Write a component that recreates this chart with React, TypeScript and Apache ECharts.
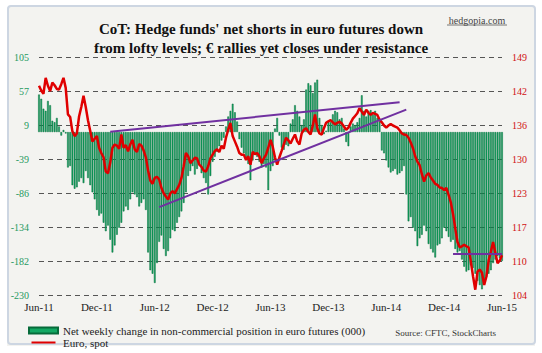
import React, { useEffect, useRef } from 'react';
import * as echarts from 'echarts';

const titleLines = [
  "CoT: Hedge funds' net shorts in euro futures down",
  'from lofty levels; \u20AC rallies yet closes under resistance',
];
const barName = 'Net weekly change in non-commercial position in euro futures (000)';
const lineName = 'Euro, spot';
const firstWeekUTC = Date.UTC(2011, 5, 7);
const tickLabels = ['Jun-11', 'Dec-11', 'Jun-12', 'Dec-12', 'Jun-13', 'Dec-13', 'Jun-14', 'Dec-14', 'Jun-15'];
const leftTicks = [-230, -182.142857, -134.285714, -86.428571, -38.571429, 9.285714, 57.142857, 105];
const rightTicks = [104, 110.4, 116.8, 123.2, 129.6, 136, 142.4, 148.8];
const gridSteps = 7;

const netPositions = [
  53, 47, 33, 30, 44, 38, 16, 14, 20, 8, -5, 3, -2, -50, -48, -75, -80, -78, -70, -65,
  -72, -55, -65, -75, -85, -95, -110, -118, -115, -128, -140, -132, -152, -170, -160, -145, -135, -128, -112, -105,
  -110, -95, -85, -88, -92, -105, -100, -95, -110, -170, -195, -200, -213, -185, -155, -146, -165, -175, -168, -150,
  -138, -140, -128, -120, -112, -100, -85, -62, -55, -48, -60, -52, -45, -58, -65, -72, -88, -62, -42, -35,
  -28, -20, -12, -8, 8, 22, 30, 40, 28, 15, -10, -22, -30, -38, -45, -68, -40, -30, -35, -42,
  -50, -45, -50, -82, -55, -48, 5, 20, -5, -22, -25, -18, -20, 12, 18, 38, 30, 22, 10, 18,
  60, 69, 66, 55, 70, 74, 20, 10, -3, 2, 15, 14, 25, 30, 28, 18, 20, 5, -14, -20,
  8, 12, 10, 14, 20, 52, 30, 22, 30, 31, 25, 30, 20, 15, -26, -30, -40, -50, -57, -55,
  -52, -60, -58, -55, -48, -88, -126, -120, -135, -140, -161, -150, -145, -132, -140, -158, -165, -170, -177, -160,
  -158, -150, -135, -140, -148, -155, -152, -165, -170, -168, -180, -190, -197, -195, -188, -192, -200, -210, -216, -222,
  -212, -205, -200, -195, -185, -180, -175, -178, -182,
];

const euroSpot = [
  143.5, 142.6, 142.0, 145.0, 143.5, 142.5, 144.1, 143.6, 142.9, 142.8, 143.8, 145.0, 143.1, 138.1, 137.6, 134.9, 134.0, 134.5, 137.7, 139.5,
  141.6, 139.5, 137.0, 135.0, 133.0, 133.5, 134.0, 131.8, 130.8, 130.0, 127.3, 127.0, 129.0, 131.8, 132.4, 132.2, 131.6, 134.3, 131.8, 132.3,
  131.1, 132.4, 133.3, 131.5, 131.0, 132.5, 132.2, 131.3, 130.0, 127.5, 125.6, 125.0, 126.1, 126.3, 125.8, 124.2, 123.2, 122.6, 122.0, 123.2,
  123.6, 123.2, 124.0, 124.8, 126.1, 128.3, 130.8, 130.2, 128.9, 129.4, 129.9, 129.8, 128.6, 128.2, 127.5, 127.3, 128.3, 129.8, 130.5, 131.2,
  131.5, 131.0, 132.2, 131.6, 133.7, 135.2, 136.5, 134.0, 133.0, 132.0, 130.8, 130.5, 130.5, 129.5, 130.2, 128.6, 131.0, 130.6, 130.8, 130.2,
  128.9, 129.8, 130.5, 131.8, 133.3, 132.0, 130.0, 128.6, 130.0, 131.2, 132.5, 133.7, 133.2, 132.6, 133.5, 134.3, 133.0, 132.4, 134.5, 135.2,
  135.5, 134.8, 134.3, 136.0, 138.1, 135.5, 134.5, 134.3, 135.5, 136.5, 136.8, 137.0, 136.6, 136.2, 136.5, 136.7, 136.4, 135.8, 135.2, 135.6,
  136.5, 137.3, 137.8, 138.3, 139.3, 138.6, 138.0, 139.0, 138.4, 138.0, 138.4, 138.2, 138.0, 137.1, 136.6, 136.0, 135.6, 136.0, 136.3, 136.0,
  135.8, 135.6, 135.1, 134.5, 134.3, 134.2, 133.7, 132.8, 131.7, 130.2, 129.2, 128.5, 126.8, 125.4, 126.6, 127.0, 126.2, 125.6, 125.0, 124.8,
  124.3, 124.2, 123.8, 124.2, 122.9, 121.5, 119.3, 116.6, 114.0, 113.0, 113.2, 113.5, 113.2, 113.0, 110.3, 107.5, 105.0, 108.4, 108.8, 108.2,
  105.9, 107.5, 110.5, 112.2, 114.0, 112.0, 110.0, 110.5, 111.5,
];

// trend lines: [week index, euro level]
const upperTrend = [[32, 134.8], [162, 140.4]];
const lowerTrend = [[54, 120.6], [165, 139.0]];
const resistance = [[186, 111.8], [208, 111.8]];

const serif = "'Liberation Serif', 'Times New Roman', serif";
const lineIcon = 'path://M0,2.2H28V4.8H0Z M0,0h0.01v0.01h-0.01Z M27.99,6.99h0.01v0.01h-0.01Z';

export default function App() {
  const ref = useRef<HTMLDivElement>(null);
  useEffect(() => {
    if (!ref.current) return;
    const chart = echarts.init(ref.current, null, { renderer: 'svg' });
    const weeks = netPositions.map((_, i) =>
      new Date(firstWeekUTC + i * 7 * 86400000).toISOString().slice(0, 10)
    );
    const trendStyle = { color: '#7030a0', width: 2, type: 'solid' };
    const trend = (pts: number[][]) => [
      { coord: [pts[0][0], pts[0][1]], lineStyle: trendStyle },
      { coord: [pts[1][0], pts[1][1]] },
    ];
    chart.setOption({
      animation: false,
      backgroundColor: '#f3f3f0',
      graphic: [
        {
          type: 'rect', silent: true,
          shape: { x: 0, y: 0, width: 542, height: 353 },
          style: { fill: 'none', stroke: '#ffffff', lineWidth: 14 },
        },
        {
          type: 'rect', silent: true,
          shape: { x: 8, y: 6, width: 527, height: 338, r: 3 },
          style: { fill: 'none', stroke: '#cdd6e2', lineWidth: 2 },
        },
        {
          type: 'text',
          style: { text: 'hedgopia.com', x: 477, y: 20, align: 'center', verticalAlign: 'middle', font: '10px ' + serif, fill: '#444' },
        },
        { type: 'line', shape: { x1: 447, y1: 25, x2: 507, y2: 25 }, style: { stroke: '#555', lineWidth: 0.8 } },
        {
          type: 'text',
          style: { text: 'Source: CFTC, StockCharts', x: 496, y: 333, align: 'right', verticalAlign: 'middle', font: '9px ' + serif, fill: '#333' },
        },
      ],
      title: {
        text: titleLines.join('\n'),
        left: 256, top: 15, textAlign: 'center',
        textStyle: { fontFamily: serif, fontSize: 15, fontWeight: 'bold', color: '#111', lineHeight: 18.5 },
      },
      legend: {
        orient: 'vertical', left: 23, top: 320, itemWidth: 29, itemHeight: 6, itemGap: 1,
        textStyle: { fontFamily: serif, fontSize: 11, color: '#222' },
        data: [
          { name: barName, icon: 'rect' },
          { name: lineName, icon: lineIcon },
        ],
      },
      grid: { left: 39, right: 40, top: 57.7, bottom: 58 },
      xAxis: {
        type: 'category', data: weeks, boundaryGap: false,
        axisLine: { show: false }, axisTick: { show: false }, splitLine: { show: false },
        axisLabel: {
          interval: 25, margin: 6, fontFamily: serif, fontSize: 11, color: '#222',
          formatter: (_v: string, idx: number) => (idx % 26 === 0 ? tickLabels[idx / 26] || '' : ''),
        },
      },
      yAxis: [
        {
          type: 'value', min: -230, max: 105, position: 'left',
          axisLine: { show: false },
          axisTick: { show: false, customValues: leftTicks },
          splitLine: { show: false },
          axisLabel: {
            customValues: leftTicks, margin: 10, fontFamily: serif, fontSize: 10, color: '#1f9a5f',
            formatter: (v: number) => String(Math.round(v)),
          },
        },
        {
          type: 'value', min: 104, max: 148.8, position: 'right',
          axisLine: { show: false },
          axisTick: { show: false, customValues: rightTicks },
          splitLine: { show: false },
          axisLabel: {
            customValues: rightTicks, margin: 10, fontFamily: serif, fontSize: 10, color: '#d01010',
            formatter: (v: number) => String(Math.round(v)),
          },
        },
        {
          // helper axis: one split line per shared tick of the two value axes
          type: 'value', min: 0, max: gridSteps, interval: 1, position: 'left',
          axisLine: { show: false }, axisTick: { show: false }, axisLabel: { show: false },
          splitLine: { show: true, lineStyle: { color: '#555555', width: 1.2, type: [5, 4] } },
        },
      ],
      series: [
        {
          name: barName, type: 'bar', yAxisIndex: 0, data: netPositions, barWidth: 1.7,
          itemStyle: { color: '#12a863', borderColor: '#066b3a', borderWidth: 0.5 },
          z: 2,
        },
        {
          name: lineName, type: 'line', yAxisIndex: 1, data: euroSpot, symbol: 'none',
          lineStyle: { color: '#e00000', width: 2.5 }, itemStyle: { color: '#e00000' }, z: 3,
          markLine: {
            silent: true, symbol: ['none', 'none'], label: { show: false },
            data: [trend(upperTrend), trend(lowerTrend), trend(resistance)],
          },
        },
      ],
    });
    return () => chart.dispose();
  }, []);
  return <div ref={ref} style={{ position: 'fixed', left: 0, top: 0, width: 542, height: 353 }} />;
}
